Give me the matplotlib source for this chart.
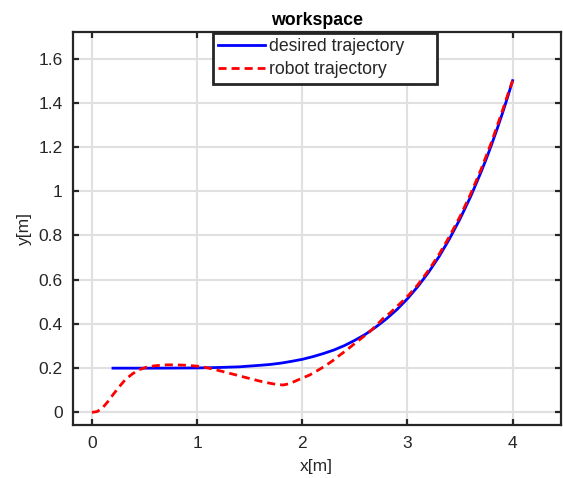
import matplotlib
matplotlib.use("Agg")
import matplotlib.pyplot as plt

plt.rcParams['font.family'] = ['Liberation Sans', 'DejaVu Sans']

# desired trajectory
des_x = [0.2, 0.6, 1.0, 1.2, 1.4, 1.6, 1.7, 1.8, 1.9, 2.0, 2.1, 2.2, 2.3, 2.4, 2.5, 2.6, 2.7,
         2.8, 2.9, 3.0, 3.1, 3.2, 3.3, 3.4, 3.5, 3.6, 3.7, 3.75, 3.8, 3.85, 3.9, 3.95, 4.0]
des_y = [0.2, 0.2, 0.201, 0.203, 0.206, 0.213, 0.217, 0.223, 0.231, 0.240, 0.252, 0.266, 0.282,
         0.302, 0.326, 0.353, 0.386, 0.423, 0.465, 0.514, 0.570, 0.633, 0.704, 0.785, 0.875,
         0.975, 1.087, 1.147, 1.211, 1.278, 1.348, 1.422, 1.5]

# robot trajectory
rob_x = [0.0, 0.05, 0.1, 0.15, 0.2, 0.26, 0.32, 0.39, 0.45, 0.52, 0.6, 0.71, 0.8, 0.9, 1.0,
         1.06, 1.15, 1.25, 1.38, 1.5, 1.6, 1.7, 1.76, 1.82, 1.88, 1.95, 2.0, 2.07, 2.14, 2.214,
         2.29, 2.357, 2.43, 2.5, 2.57, 2.642, 2.71, 2.769, 2.835, 2.896, 2.96, 3.023, 3.1, 3.2,
         3.3, 3.4, 3.5, 3.6, 3.7, 3.8, 3.9, 3.95, 4.0]
rob_y = [0.0, 0.004, 0.02, 0.048, 0.08, 0.116, 0.15, 0.176, 0.193, 0.205, 0.211, 0.215, 0.215,
         0.213, 0.209, 0.205, 0.196, 0.184, 0.168, 0.153, 0.141, 0.131, 0.126, 0.124, 0.13,
         0.145, 0.155, 0.169, 0.188, 0.209, 0.234, 0.259, 0.285, 0.312, 0.338, 0.365, 0.396,
         0.425, 0.45, 0.477, 0.506, 0.536, 0.578, 0.642, 0.714, 0.796, 0.886, 0.987, 1.099,
         1.223, 1.36, 1.432, 1.5]

x_ticks = [0, 1, 2, 3, 4]
y_ticks = [0, 0.2, 0.4, 0.6, 0.8, 1.0, 1.2, 1.4, 1.6]
y_ticklabels = ['0', '0.2', '0.4', '0.6', '0.8', '1', '1.2', '1.4', '1.6']

W, H = 563, 478
fig = plt.figure(figsize=(W / 100, H / 100), dpi=100)
ax = fig.add_axes([72.5 / W, 1 - 425 / H, (561 - 72.5) / W, (425 - 32) / H])

dark = '#262626'
ax.grid(True, color='#e0e0e0', linewidth=1.5)
ax.set_axisbelow(True)

ax.plot(des_x, des_y, color='#0000ff', linewidth=2.0, label='desired trajectory', zorder=3)
ax.plot(rob_x, rob_y, color='#ff0000', linewidth=2.0, linestyle=(0, (2.9, 1.8)),
        label='robot trajectory', zorder=4)

ax.set_xlim(-0.185, 4.46)
ax.set_ylim(-0.057, 1.72)
ax.set_xticks(x_ticks)
ax.set_xticklabels([str(t) for t in x_ticks])
ax.set_yticks(y_ticks)
ax.set_yticklabels(y_ticklabels)

for s in ax.spines.values():
    s.set_color(dark)
    s.set_linewidth(1.6)

ax.tick_params(direction='in', length=4, width=1.6, color=dark, labelcolor=dark,
               labelsize=12.5, top=True, right=True)
ax.tick_params(axis='x', pad=8)
ax.tick_params(axis='y', pad=7)

ax.set_xlabel('x[m]', fontsize=12.5, color=dark, labelpad=6)
ax.set_ylabel('y[m]', fontsize=12.5, color=dark, labelpad=5)
ax.set_title('workspace', fontsize=12.8, fontweight='bold', color='black', pad=5)

leg = ax.legend(loc='upper left',
                bbox_to_anchor=(212.7 / W, 1 - 83.3 / H, 224.6 / W, 50.3 / H),
                bbox_transform=fig.transFigure, mode='expand',
                borderaxespad=0, fontsize=12.7, fancybox=False, framealpha=1,
                handlelength=2.65, handletextpad=0.27, labelspacing=0.35, borderpad=0.3,
                edgecolor=dark)
leg.get_frame().set_linewidth(2.0)
for t in leg.get_texts():
    t.set_color(dark)

fig.savefig('out.png', dpi=100)
